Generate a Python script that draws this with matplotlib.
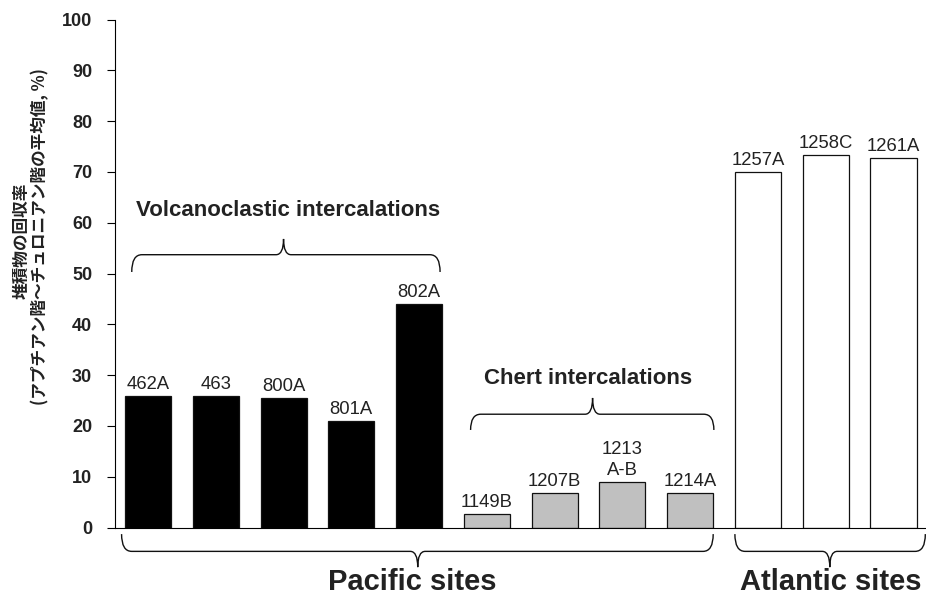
import matplotlib
matplotlib.use("Agg")
import matplotlib.pyplot as plt
from matplotlib.path import Path
from matplotlib.patches import PathPatch

plt.rcParams['font.family'] = ['Liberation Sans', 'DejaVu Sans']

sites = ["462A", "463", "800A", "801A", "802A",
         "1149B", "1207B", "1213\nA-B", "1214A",
         "1257A", "1258C", "1261A"]
recovery = [25.8, 25.8, 25.5, 21.0, 44.0,
            2.6, 6.7, 8.9, 6.7,
            70.0, 73.3, 72.7]
groups = ["volcanic"] * 5 + ["chert"] * 4 + ["atlantic"] * 3
group_colors = {"volcanic": "#000000", "chert": "#c0c0c0", "atlantic": "#ffffff"}
yticks = [0, 10, 20, 30, 40, 50, 60, 70, 80, 90, 100]
ylabel1 = "堆積物の回収率"
ylabel2 = "(アプチアン階～チュロニアン階の平均値, %)"
txt_col = "#222222"

fig = plt.figure(figsize=(9.26, 5.99), dpi=100)
ax = fig.add_axes([115 / 926, (599 - 527.5) / 599, 1 - 115 / 926, 508 / 599])

x = list(range(len(sites)))
ax.bar(x, recovery, width=0.68, color=[group_colors[g] for g in groups],
       edgecolor="#111111", linewidth=0.9, zorder=2)
for xi, v, s in zip(x, recovery, sites):
    ax.text(xi, v + 0.6, s, ha="center", va="bottom", fontsize=13.3,
            color=txt_col, linespacing=1.3)

ax.set_xlim(-0.487, 11.48)
ax.set_ylim(0, 100)
ax.set_yticks(yticks)
ax.set_xticks([])
for lab in ax.get_yticklabels():
    lab.set_fontweight("bold")
ax.tick_params(axis="y", direction="out", length=5.5, width=0.8, pad=11,
               labelsize=13, labelcolor=txt_col)
for sp in ["top", "right"]:
    ax.spines[sp].set_visible(False)
ax.spines["left"].set_linewidth(0.8)
ax.spines["bottom"].set_linewidth(0.8)


def brace(x0, x1, xm, y_end, y_mid, y_tip, rx=0.15, rt=0.11):
    verts = [(x0, y_end), (x0, y_mid), (x0 + rx, y_mid),
             (xm - rt, y_mid), (xm, y_mid), (xm, y_tip),
             (x1, y_end), (x1, y_mid), (x1 - rx, y_mid),
             (xm + rt, y_mid), (xm, y_mid), (xm, y_tip)]
    codes = [Path.MOVETO, Path.CURVE3, Path.CURVE3,
             Path.LINETO, Path.CURVE3, Path.CURVE3] * 2
    patch = PathPatch(Path(verts, codes), facecolor="none",
                      edgecolor="#111111", linewidth=1.0, clip_on=False)
    ax.add_patch(patch)


brace(-0.24, 4.31, 2.0, 50.3, 53.7, 56.8)
brace(4.76, 8.35, 6.56, 19.2, 22.3, 25.5)
brace(-0.39, 8.34, 3.98, -1.3, -4.7, -7.8)
brace(8.66, 11.47, 10.06, -1.3, -4.7, -7.8)

ax.text(2.07, 62.4, "Volcanoclastic intercalations", ha="center", va="center",
        fontsize=16, fontweight="bold", color=txt_col)
ax.text(6.5, 29.4, "Chert intercalations", ha="center", va="center",
        fontsize=16, fontweight="bold", color=txt_col)
ax.text(3.9, -10.8, "Pacific sites", ha="center", va="center",
        fontsize=21, fontweight="bold", color=txt_col, clip_on=False)
ax.text(10.07, -10.8, "Atlantic sites", ha="center", va="center",
        fontsize=21, fontweight="bold", color=txt_col, clip_on=False)

cjk = ['Noto Sans CJK JP', 'Liberation Sans', 'DejaVu Sans']
fig.text(21.7 / 926, 1 - 241 / 599, ylabel1, rotation=90, ha="center",
         va="center", fontsize=12, fontweight="bold", family=cjk, color=txt_col)
fig.text(40 / 926, 1 - 237 / 599, ylabel2, rotation=90, ha="center",
         va="center", fontsize=12, fontweight="bold", family=cjk, color=txt_col)

fig.savefig("out.png", dpi=100)
